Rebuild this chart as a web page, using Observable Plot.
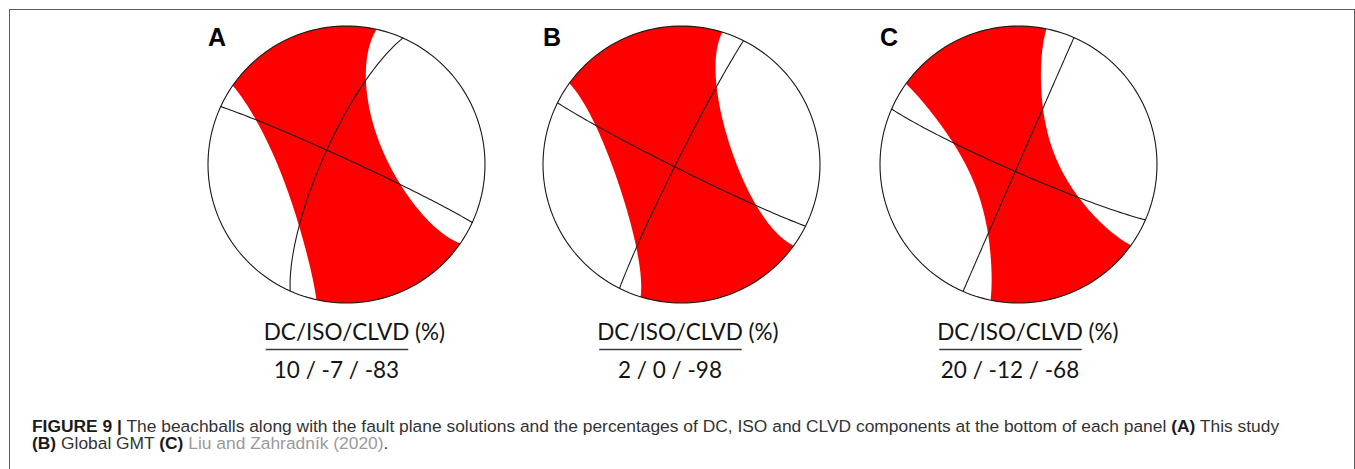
<!DOCTYPE html>
<html>
<head>
<meta charset="utf-8">
<script src="https://cdn.jsdelivr.net/npm/d3@7"></script>
<script src="https://cdn.jsdelivr.net/npm/@observablehq/plot@0.6"></script>
<style>
  html, body { margin: 0; padding: 0; background: #fff; }
  #page { position: relative; width: 1355px; height: 469px; overflow: hidden; background: #fff; }
  #frame { position: absolute; left: 9px; top: 9px; width: 1346px; height: 540px;
           border: 1px solid #5c5c5c; box-sizing: border-box; }
  .ball { position: absolute; }
  #notes { position: absolute; left: 0; top: 0; }
  #notes text { font-family: Lato, "Open Sans", sans-serif; font-size: 22.5px; fill: #141414; }
  .cap { position: absolute; left: 32px; white-space: nowrap; font-family: "Liberation Sans", Arial, sans-serif;
         font-size: 17.4px; line-height: 18px; color: #333; }
  .cap b { color: #1a1a1a; }
  .cap .ref { color: #9a9a9a; }
</style>
</head>
<body>
<div id="page">
  <div id="frame"></div>
  <svg id="notes" width="1355" height="469"></svg>
  <div class="cap" style="top:416.6px"><b>FIGURE 9 |</b> The beachballs along with the fault plane solutions and the percentages of DC, ISO and CLVD components at the bottom of each panel <b>(A)</b> This study</div>
  <div class="cap" style="top:434.2px"><b>(B)</b> Global GMT <b>(C)</b> <span class="ref">Liu and Zahradník (2020)</span>.</div>
</div>
<script>
// Focal mechanisms: one nodal plane (strike / dip / rake, degrees) per panel
const panels = ["A", "B", "C"];
const strike = [204, 206.6, 203.6];
const dip = [76, 87, 89.9];
const rake = [177, 183, 184.5];
// Moment-tensor decomposition, percent
const dcPct = [10, 2, 20];
const isoPct = [-7, 0, -12];
const clvdPct = [-83, -98, -68];

// Page layout
const ballCx = [346, 681, 1017.7];
const ballCy = 164;
const ballR = 138.5;
const noteCx = [336.5, 670, 1010];
const PLOT_W = 300, PLOT_H = 300;

const rad = Math.PI / 180;
const add = (a, b) => a.map((v, i) => v + b[i]);
const sub = (a, b) => a.map((v, i) => v - b[i]);
const mul = (a, k) => a.map(v => v * k);
const unit = a => { const l = Math.hypot(...a); return a.map(v => v / l); };
const cross = (a, b) => [a[1] * b[2] - a[2] * b[1], a[2] * b[0] - a[0] * b[2], a[0] * b[1] - a[1] * b[0]];

// Fault normal, slip vector and T/B/P axes in North-East-Down coordinates
function dcAxes(s, d, r) {
  s *= rad; d *= rad; r *= rad;
  const n = [-Math.sin(d) * Math.sin(s), Math.sin(d) * Math.cos(s), -Math.cos(d)];
  const u = [Math.cos(r) * Math.cos(s) + Math.cos(d) * Math.sin(r) * Math.sin(s),
             Math.cos(r) * Math.sin(s) - Math.cos(d) * Math.sin(r) * Math.cos(s),
             -Math.sin(r) * Math.sin(d)];
  return {n, u, T: unit(add(n, u)), P: unit(sub(n, u)), B: unit(cross(n, u))};
}

// Eigenvalues (along T, B, P) from the ISO and CLVD percentages
// (epsilon-based decomposition: CLVD = 2*eps*(1-|ISO|), ISO = tr(M)/3/|M|max)
function eigenvalues(isoP, clvdP) {
  const iso = isoP / 100, clvd = clvdP / 100;
  const eps = clvd / (2 * (1 - Math.abs(iso)));
  const dev = eps > 0 ? {T: 1, B: -eps, P: eps - 1} : {T: 1 + eps, B: -eps, P: -1};
  let m = 0;
  for (let k = 0; k < 200; ++k)
    m = iso * Math.max(Math.abs(dev.T + m), Math.abs(dev.B + m), Math.abs(dev.P + m));
  return {T: dev.T + m, B: dev.B + m, P: dev.P + m};
}

// Ray direction (N, E, D) -> [lon, lat] so that straight down is the centre of the net
const toGeo = ([N, E, D]) => [Math.atan2(E, D) / rad, Math.asin(Math.max(-1, Math.min(1, N))) / rad];

function greatCircle(a, b) {
  return {type: "LineString",
    coordinates: d3.range(0, 361, 2).map(t => toGeo(add(mul(a, Math.cos(t * rad)), mul(b, Math.sin(t * rad)))))};
}

// Region around `axis` where the radiation pattern has the sign of la
function cap(axis, e1, l1, e2, l2, la) {
  const ring = d3.range(0, 361, 1).map(a => {
    const c = Math.cos(a * rad), s = Math.sin(a * rad);
    const th = Math.atan(Math.sqrt(-la / (l1 * c * c + l2 * s * s)));
    return toGeo(add(mul(axis, Math.cos(th)), mul(add(mul(e1, c), mul(e2, s)), Math.sin(th))));
  });
  ring[ring.length - 1] = ring[0];
  let poly = {type: "Polygon", coordinates: [ring]};
  if (d3.geoArea(poly) > 2 * Math.PI) poly = {type: "Polygon", coordinates: [ring.slice().reverse()]};
  return poly;
}

const COMP = "#fe0000", DIL = "#ffffff", INK = "#1c1c1c";
const page = document.getElementById("page");
const notes = document.getElementById("notes");
const NS = "http://www.w3.org/2000/svg";

panels.forEach((label, i) => {
  const {n, u, T, P, B} = dcAxes(strike[i], dip[i], rake[i]);
  const ev = eigenvalues(isoPct[i], clvdPct[i]);
  const neg = (v) => mul(v, -1);

  let background, capFill, caps;
  if (ev.B >= 0) { // dilatational caps around +/-P on a compressional sphere
    background = COMP; capFill = DIL;
    caps = [cap(P, T, ev.T, B, ev.B, ev.P), cap(neg(P), T, ev.T, B, ev.B, ev.P)];
  } else {        // compressional caps around +/-T on a dilatational sphere
    background = DIL; capFill = COMP;
    caps = [cap(T, B, ev.B, P, ev.P, ev.T), cap(neg(T), B, ev.B, P, ev.P, ev.T)];
  }
  const planes = [greatCircle(u, B), greatCircle(n, B)];
  const m = PLOT_W / 2 - (ballR + 1);

  const svg = Plot.plot({
    width: PLOT_W,
    height: PLOT_H,
    margin: m,
    projection: {
      type: () => d3.geoAzimuthalEqualArea().clipAngle(90).precision(0.1),
      domain: {type: "Sphere"},
      inset: 1,
      clip: false
    },
    style: {background: "transparent", overflow: "visible", fontFamily: "'Liberation Sans', Arial, sans-serif"},
    marks: [
      Plot.sphere({fill: background, stroke: "none"}),
      Plot.geo(caps, {fill: capFill, stroke: "none"}),
      Plot.geo(planes, {fill: "none", stroke: INK, strokeWidth: 1.1}),
      Plot.sphere({fill: "none", stroke: INK, strokeWidth: 1.1}),
      Plot.text([label], {text: d => d, frameAnchor: "top-left", textAnchor: "start", lineAnchor: "top",
                          fontSize: 25, fontWeight: "bold", fill: "#000", dx: 1, dy: 3})
    ]
  });
  svg.classList.add("ball");
  svg.style.left = (ballCx[i] - PLOT_W / 2) + "px";
  svg.style.top = (ballCy - PLOT_H / 2) + "px";
  page.appendChild(svg);

  // Decomposition note under each ball
  const head = document.createElementNS(NS, "text");
  head.setAttribute("y", 340);
  head.textContent = "DC/ISO/CLVD (%)";
  notes.appendChild(head);
  const wNum = head.getSubStringLength(0, 11);
  const x0 = noteCx[i] - wNum / 2;
  head.setAttribute("x", x0);

  const bar = document.createElementNS(NS, "line");
  bar.setAttribute("x1", x0 + 2); bar.setAttribute("x2", x0 + wNum - 1);
  bar.setAttribute("y1", 349.5); bar.setAttribute("y2", 349.5);
  bar.setAttribute("stroke", "#3a3a3a"); bar.setAttribute("stroke-width", 1.6);
  notes.appendChild(bar);

  const val = document.createElementNS(NS, "text");
  val.setAttribute("x", noteCx[i]);
  val.setAttribute("y", 377.7);
  val.setAttribute("text-anchor", "middle");
  val.textContent = `${dcPct[i]} / ${isoPct[i]} / ${clvdPct[i]}`;
  notes.appendChild(val);
});
</script>
</body>
</html>
